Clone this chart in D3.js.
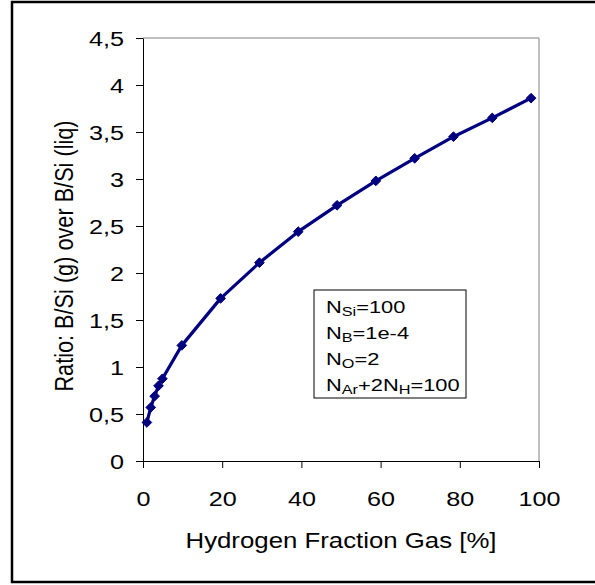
<!DOCTYPE html>
<html>
<head>
<meta charset="utf-8">
<script src="https://cdn.jsdelivr.net/npm/d3@7"></script>
<style>
  html, body { margin: 0; padding: 0; background: #fff; overflow: hidden; }
  svg { display: block; font-family: Arial, "Liberation Sans", sans-serif; }
</style>
</head>
<body>
<svg id="chart" width="595" height="585"></svg>
<script>
// Data
const hydrogenFraction = [0.98, 1.96, 2.94, 3.92, 4.9, 9.8, 19.6, 29.4, 39.2, 49, 58.8, 68.6, 78.4, 88.2, 98];
const ratio = [0.41, 0.57, 0.69, 0.80, 0.875, 1.23, 1.73, 2.11, 2.44, 2.72, 2.98, 3.22, 3.45, 3.65, 3.86];
const xTicks = [0, 20, 40, 60, 80, 100];
const yTicks = [0, 0.5, 1, 1.5, 2, 2.5, 3, 3.5, 4, 4.5];
const legendLines = [
  [["N", false], ["Si", true], ["=100", false]],
  [["N", false], ["B", true], ["=1e-4", false]],
  [["N", false], ["O", true], ["=2", false]],
  [["N", false], ["Ar", true], ["+2N", false], ["H", true], ["=100", false]]
];

(function () {
const svg = d3.select("#chart");
const pLeft = 143, pRight = 539, pTop = 38, pBottom = 461;
const SX = 1.2; // horizontal stretch of the original rendering

// Outer frame
svg.append("rect").attr("x", 12).attr("y", 2).attr("width", 640).attr("height", 580)
  .attr("fill", "none").attr("stroke", "#000").attr("stroke-width", 2.5);

const x = d3.scaleLinear().domain([0, 100]).range([pLeft, pRight]);
const y = d3.scaleLinear().domain([0, 4.5]).range([pBottom, pTop]);

// Plot area border (top and right, gray)
svg.append("path")
  .attr("d", `M${pLeft},${pTop}H${pRight}V${pBottom}`)
  .attr("fill", "none").attr("stroke", "#808080").attr("stroke-width", 1);

const fmt = d => String(d).replace(".", ",");

const xAxis = svg.append("g").attr("transform", `translate(0,${pBottom})`)
  .call(d3.axisBottom(x).tickValues(xTicks).tickSize(7).tickSizeOuter(0).tickPadding(23).tickFormat(d => d));
const yAxis = svg.append("g").attr("transform", `translate(${pLeft},0)`)
  .call(d3.axisLeft(y).tickValues(yTicks).tickSize(7).tickSizeOuter(0).tickPadding(12).tickFormat(fmt));

[xAxis, yAxis].forEach(g => {
  g.select(".domain").attr("stroke", "#000").attr("stroke-width", 1);
  g.selectAll(".tick line").attr("stroke", "#000");
  g.selectAll(".tick text").attr("fill", "#000").style("font-size", "21px")
    .style("font-family", "Arial, 'Liberation Sans', sans-serif")
    .each(function () {
      const t = d3.select(this);
      const tx = +t.attr("x") || 0, ty = +t.attr("y") || 0;
      t.attr("x", 0).attr("y", 0).attr("transform", `translate(${tx},${ty}) scale(${SX},1)`);
    });
});
yAxis.selectAll(".tick text").attr("dy", "0.36em");

// Axis titles
svg.append("text").attr("transform", `translate(${(pLeft + pRight) / 2},548) scale(${SX},1)`)
  .attr("text-anchor", "middle").style("font-size", "21.5px").text("Hydrogen Fraction Gas [%]");
svg.append("text").attr("transform", `translate(73,256) scale(${SX},1) rotate(-90)`)
  .attr("text-anchor", "middle").style("font-size", "21.7px").text("Ratio: B/Si (g) over B/Si (liq)");

// Series
const pts = hydrogenFraction.map((d, i) => [d, ratio[i]]);
svg.append("path").datum(pts)
  .attr("fill", "none").attr("stroke", "#000080").attr("stroke-width", 3.2)
  .attr("stroke-linejoin", "round")
  .attr("d", d3.line().x(d => x(d[0])).y(d => y(d[1])));
svg.append("g").selectAll("path").data(pts).join("path")
  .attr("transform", d => `translate(${x(d[0])},${y(d[1])})`)
  .attr("d", d3.symbol(d3.symbolDiamond2, 60)())
  .attr("fill", "#000080").attr("stroke", "#000080").attr("stroke-width", 1);

// Annotation box
const box = svg.append("g");
box.append("rect").attr("x", 314).attr("y", 290).attr("width", 152).attr("height", 108)
  .attr("fill", "#fff").attr("stroke", "#000").attr("stroke-width", 1);
legendLines.forEach((line, i) => {
  const t = box.append("text")
    .attr("transform", `translate(326,${313 + i * 26}) scale(1.3,1)`)
    .style("font-size", "16.8px");
  line.forEach(([s, sub], j) => {
    const prevSub = j > 0 && line[j - 1][1];
    const ts = t.append("tspan").text(s).attr("dy", sub ? 3 : (prevSub ? -3 : 0));
    if (sub) ts.style("font-size", "12.5px");
  });
});
})();
</script>
</body>
</html>
